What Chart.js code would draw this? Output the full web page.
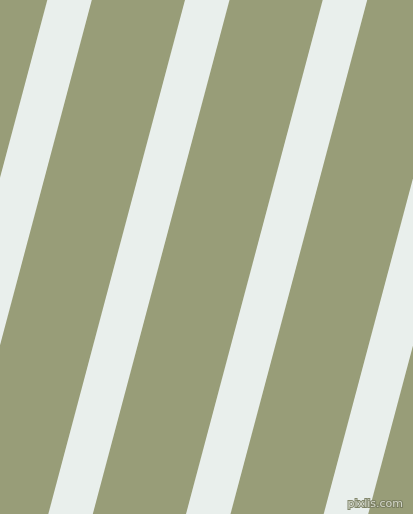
<!DOCTYPE html>
<html>
<head>
<meta charset="utf-8">
<script src="https://cdn.jsdelivr.net/npm/chart.js@4"></script>
<style>
  html, body { margin: 0; padding: 0; background: #989d78; overflow: hidden; }
  canvas { display: block; }
</style>
</head>
<body>
<canvas id="myChart" width="413" height="514"></canvas>
<script>
const ctx = document.getElementById('myChart');

// stripe left edges where they cross the top (y=0) and bottom (y=514)
const stripeTopX = [47.3, 185, 322.7, 460.4];
const stripeBottomX = [-89.4, 48.3, 186, 323.7];
const stripeWidth = 44.5;
const pageHeight = 514;
const pageWidth = 413;

const stripeColor = '#e9efec';
const groundColor = '#989d78';

let datasets = stripeTopX.map((top, i) => {
  let bottom = stripeBottomX[i];
  return {
    data: [
      {x: top, y: 0},
      {x: top + stripeWidth, y: 0},
      {x: bottom + stripeWidth, y: pageHeight},
      {x: bottom, y: pageHeight},
      {x: top, y: 0}
    ],
    showLine: true,
    fill: 'shape',
    backgroundColor: stripeColor,
    borderColor: stripeColor,
    borderWidth: 0,
    pointRadius: 0,
    tension: 0
  };
});

const background = {
  id: 'background',
  beforeDraw(chart) {
    const c = chart.ctx;
    c.save();
    c.fillStyle = groundColor;
    c.fillRect(0, 0, chart.width, chart.height);
    c.restore();
  }
};

const watermark = {
  id: 'watermark',
  afterDraw(chart) {
    const c = chart.ctx;
    c.save();
    c.font = '11px "DejaVu Sans"';
    c.textAlign = 'right';
    c.textBaseline = 'alphabetic';
    c.lineWidth = 2;
    c.strokeStyle = 'rgba(120,124,95,0.9)';
    c.strokeText('pixlis.com', 403, 507);
    c.fillStyle = 'rgba(215,218,205,0.95)';
    c.fillText('pixlis.com', 403, 507);
    c.restore();
  }
};

new Chart(ctx, {
  type: 'scatter',
  data: { datasets: datasets },
  options: {
    responsive: false,
    animation: false,
    layout: { padding: 0 },
    plugins: {
      legend: { display: false },
      tooltip: { enabled: false }
    },
    scales: {
      x: { type: 'linear', min: 0, max: pageWidth, display: false },
      y: { type: 'linear', min: 0, max: pageHeight, reverse: true, display: false }
    }
  },
  plugins: [background, watermark]
});
</script>
</body>
</html>
